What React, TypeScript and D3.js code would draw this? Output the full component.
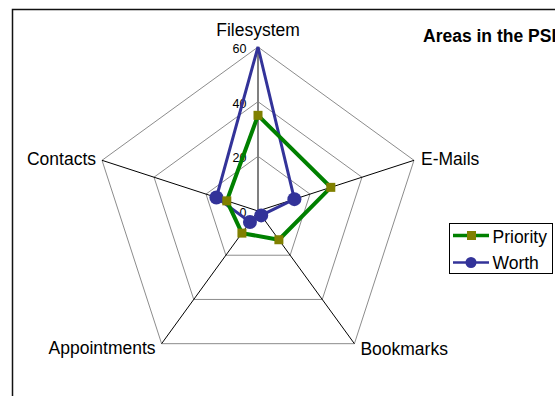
import React from "react";
import * as d3 from "d3";

const categories = ["Filesystem", "E-Mails", "Bookmarks", "Appointments", "Contacts"];
const priority = [35, 28, 13, 10, 12];
const worth = [60, 14, 2, 5, 16];
const ticks = [0, 20, 40, 60];
const title = "Areas in the PSI";

const W = 555;
const H = 396;
const cx = 258;
const cy = 211;
const R = 164;
const FONT = "'Liberation Sans', Arial, sans-serif";
const MAX = 60;

const r = d3.scaleLinear().domain([0, MAX]).range([0, R]);
const angle = d3
  .scaleLinear()
  .domain([0, categories.length])
  .range([0, 2 * Math.PI]);

const pt = (i: number, v: number): [number, number] => {
  const a = angle(i);
  return [cx + r(v) * Math.sin(a), cy - r(v) * Math.cos(a)];
};

const closedLine = d3
  .line<[number, number]>()
  .x((d) => d[0])
  .y((d) => d[1])
  .curve(d3.curveLinearClosed);

// label placement per axis: anchor, dx, dy from the outer vertex
const labelPos = [
  { anchor: "middle", dx: 0, dy: -11 },
  { anchor: "start", dx: 7, dy: 5 },
  { anchor: "start", dx: 6, dy: 11 },
  { anchor: "end", dx: -6, dy: 10 },
  { anchor: "end", dx: -6, dy: 5 },
];

export default function App() {
  const ring = (v: number) => closedLine(categories.map((_, i) => pt(i, v))) as string;
  const worthPts = worth.map((v, i) => pt(i, v));
  const prioPts = priority.map((v, i) => pt(i, v));

  return (
    <svg
      width={W}
      height={H}
      style={{ position: "absolute", left: 0, top: 0, background: "#fff" }}
      fontFamily={FONT}
    >
      {/* chart frame */}
      <rect x={12.5} y={9.5} width={700} height={600} fill="none" stroke="#111" strokeWidth={1.5} />

      {/* grid rings */}
      {ticks
        .filter((t) => t > 0)
        .map((t) => (
          <path key={t} d={ring(t)} fill="none" stroke="#8c8c8c" strokeWidth={1} />
        ))}

      {/* spokes */}
      {categories.map((c, i) => {
        const [x, y] = pt(i, MAX);
        return i === 0 ? (
          <line key={c} x1={cx} y1={cy} x2={x} y2={y} stroke="#808080" strokeWidth={2} />
        ) : (
          <line key={c} x1={cx} y1={cy} x2={x} y2={y} stroke="#000" strokeWidth={1} />
        );
      })}

      {/* value tick labels */}
      {ticks.map((t) => (
        <text key={t} x={246.5} y={cy - r(t) + 6} textAnchor="end" fontSize={12.5} fill="#000">
          {t}
        </text>
      ))}

      {/* category labels */}
      {categories.map((c, i) => {
        const [x, y] = pt(i, MAX);
        const p = labelPos[i];
        return (
          <text
            key={c}
            x={x + p.dx}
            y={y + p.dy}
            textAnchor={p.anchor as any}
            fontSize={17.5}
            fill="#000"
          >
            {c}
          </text>
        );
      })}

      {/* Worth series (markers are clipped at the outer ring) */}
      <path d={closedLine(worthPts) as string} fill="none" stroke="#333399" strokeWidth={3} strokeLinejoin="miter" />
      {worthPts.map(([x, y], i) =>
        worth[i] < MAX ? <circle key={i} cx={x} cy={y} r={7} fill="#333399" /> : null
      )}

      {/* Priority series */}
      <path d={closedLine(prioPts) as string} fill="none" stroke="#008000" strokeWidth={4} strokeLinejoin="miter" />
      {prioPts.map(([x, y], i) => (
        <rect key={i} x={x - 4.5} y={y - 4.5} width={9} height={9} fill="#808000" />
      ))}

      {/* title */}
      <text x={423} y={41.5} fontSize={17.5} fontWeight="bold" fill="#000">
        {title}
      </text>

      {/* legend */}
      <g>
        <rect x={449.5} y={223.5} width={103} height={50} fill="#fff" stroke="#000" strokeWidth={1} />
        <line x1={453} y1={235.5} x2={489} y2={235.5} stroke="#008000" strokeWidth={3.5} />
        <rect x={467} y={231} width={9} height={9} fill="#808000" />
        <text x={492.5} y={243} fontSize={17.5} fill="#000">
          Priority
        </text>
        <line x1={453} y1={262.5} x2={489} y2={262.5} stroke="#333399" strokeWidth={2.5} />
        <circle cx={471} cy={262.5} r={5.5} fill="#333399" />
        <text x={492.5} y={268.5} fontSize={17.5} fill="#000">
          Worth
        </text>
      </g>
    </svg>
  );
}
